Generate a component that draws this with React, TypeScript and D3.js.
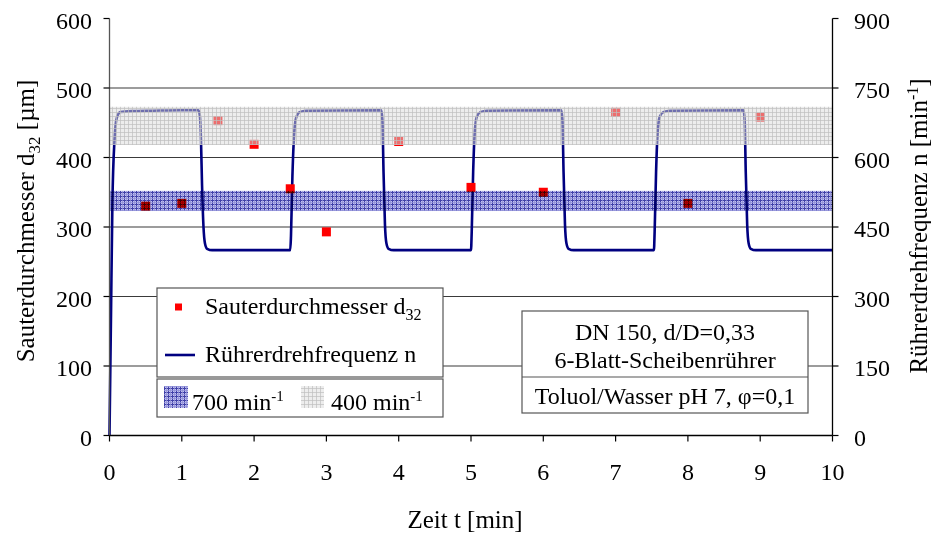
import React from "react";
import * as d3 from "d3";

// Sauter mean diameter samples (t in min, d32 in µm)
const sampleTime = [0.5, 1, 1.5, 2, 2.5, 3, 4, 5, 6, 7, 8, 9];
const sampleD32 = [330, 334, 453, 419, 355, 293, 423, 357, 350, 465, 334, 458];

// Stirrer speed trace (t in min, n in 1/min)
const speedTime = [
  0, 0.02, 0.04, 0.07, 0.1, 0.15, 0.3, 0.6, 1.0, 1.23,
  1.25, 1.265, 1.28, 1.3, 1.32, 1.35, 1.42,
  2.5, 2.51, 2.53, 2.55, 2.58, 2.63, 2.72,
  3.76, 3.775, 3.79, 3.81, 3.83, 3.86, 3.93,
  5.0, 5.01, 5.03, 5.05, 5.08, 5.13, 5.22,
  6.25, 6.265, 6.28, 6.3, 6.32, 6.35, 6.42,
  7.53, 7.54, 7.56, 7.58, 7.61, 7.66, 7.75,
  8.77, 8.785, 8.8, 8.82, 8.84, 8.87, 8.94,
  10,
];
const speedN = [
  0, 250, 500, 640, 685, 698, 700, 701, 702, 702,
  690, 640, 540, 450, 415, 403, 400,
  400, 430, 560, 640, 685, 698, 701,
  702, 680, 570, 455, 415, 403, 400,
  400, 440, 570, 650, 688, 698, 701,
  702, 680, 570, 455, 415, 403, 400,
  400, 440, 570, 650, 688, 698, 701,
  702, 680, 570, 455, 415, 403, 400,
  400,
];

// d32 ranges observed at constant speed
const bandLabels = ["700 min", "400 min"];
const band700 = [323, 352];
const band400 = [418, 473];

const xTicks = [0, 1, 2, 3, 4, 5, 6, 7, 8, 9, 10];
const yTicksLeft = [0, 100, 200, 300, 400, 500, 600];
const yTicksRight = [0, 150, 300, 450, 600, 750, 900];
const gridValues = [100, 200, 300, 400, 500];

const FONT = "'Liberation Serif', 'Times New Roman', serif";

export default function App() {
  const x = d3.scaleLinear().domain([0, 10]).range([109.5, 832.5]);
  const yL = d3.scaleLinear().domain([0, 600]).range([435.5, 18.5]);
  const yR = d3.scaleLinear().domain([0, 900]).range([435.5, 18.5]);

  const speedPts = speedTime.map((t, i) => [t, speedN[i]] as [number, number]);
  const line = d3
    .line<[number, number]>()
    .x((d) => x(d[0]))
    .y((d) => yR(d[1]))
    .curve(d3.curveMonotoneX);

  const [x0, x1] = x.range();

  return (
    <svg width={931} height={533} style={{ position: "absolute", left: 0, top: 0, background: "#fff" }} fontFamily={FONT}>
      <defs>
        <pattern id="hatchBlue" width={4} height={4} patternUnits="userSpaceOnUse">
          <rect width={4} height={4} fill="#c2c2f0" />
          <line x1={0.5} y1={0} x2={0.5} y2={4} stroke="#4040a8" strokeWidth={1} />
          <line x1={0} y1={0.5} x2={4} y2={0.5} stroke="#4040a8" strokeWidth={1} />
          <line x1={2.5} y1={0} x2={2.5} y2={4} stroke="#9090d8" strokeWidth={0.8} />
          <line x1={0} y1={2.5} x2={4} y2={2.5} stroke="#9090d8" strokeWidth={0.8} />
        </pattern>
        <pattern id="hatchGray" width={4} height={4} patternUnits="userSpaceOnUse">
          <rect width={4} height={4} fill="#dcdcdc" fillOpacity={0.5} />
          <line x1={0.5} y1={0} x2={0.5} y2={4} stroke="#c0c0c0" strokeWidth={1} strokeOpacity={0.7} />
          <line x1={0} y1={0.5} x2={4} y2={0.5} stroke="#c0c0c0" strokeWidth={1} strokeOpacity={0.7} />
        </pattern>
      </defs>

      {/* horizontal grid */}
      {gridValues.map((v) => (
        <line key={v} x1={x0} x2={x1} y1={yL(v)} y2={yL(v)} stroke="#3a3a3a" strokeWidth={1.2} />
      ))}

      {/* stirrer speed trace */}
      <path d={line(speedPts) || ""} fill="none" stroke="#000080" strokeWidth={2.6} strokeLinejoin="round" />

      {/* d32 samples */}
      {sampleTime.map((t, i) => (
        <rect key={i} x={x(t) - 4.5} y={yL(sampleD32[i]) - 4.5} width={9} height={9} fill="#ff0000" />
      ))}

      {/* d32 range bands at constant speed */}
      <rect x={x0} y={yL(band400[1])} width={x1 - x0} height={yL(band400[0]) - yL(band400[1])} fill="url(#hatchGray)" />
      <rect
        x={x0}
        y={yL(band700[1])}
        width={x1 - x0}
        height={yL(band700[0]) - yL(band700[1])}
        fill="url(#hatchBlue)"
        style={{ mixBlendMode: "multiply" }}
      />

      {/* axes */}
      <line x1={x0} x2={x1} y1={yL(0)} y2={yL(0)} stroke="#000" strokeWidth={1.3} />
      <line x1={x0} x2={x0} y1={yL(0)} y2={yL(600)} stroke="#555" strokeWidth={1.3} />
      <line x1={x1} x2={x1} y1={yL(0)} y2={yL(600)} stroke="#000" strokeWidth={1.3} />

      {xTicks.map((t) => (
        <g key={t}>
          <line x1={x(t)} x2={x(t)} y1={yL(0)} y2={yL(0) + 6} stroke="#000" strokeWidth={1.2} />
          <text x={x(t)} y={480} fontSize={24} textAnchor="middle" fill="#000">{t}</text>
        </g>
      ))}
      {yTicksLeft.map((v) => (
        <g key={v}>
          <line x1={x0 - 6} x2={x0} y1={yL(v)} y2={yL(v)} stroke="#000" strokeWidth={1.2} />
          <text x={92} y={yL(v) + 10} fontSize={24} textAnchor="end" fill="#000">{v}</text>
        </g>
      ))}
      {yTicksRight.map((v) => (
        <g key={v}>
          <line x1={x1} x2={x1 + 6} y1={yR(v)} y2={yR(v)} stroke="#000" strokeWidth={1.2} />
          <text x={854} y={yR(v) + 10} fontSize={24} textAnchor="start" fill="#000">{v}</text>
        </g>
      ))}

      {/* axis titles */}
      <text x={465} y={528} fontSize={25} textAnchor="middle" fill="#000">Zeit t [min]</text>
      <text transform="translate(34,221) rotate(-90)" fontSize={25} textAnchor="middle" fill="#000">
        Sauterdurchmesser d<tspan fontSize={17} dy={6}>32</tspan><tspan dy={-6}> [µm]</tspan>
      </text>
      <text transform="translate(927,226) rotate(-90)" fontSize={25} textAnchor="middle" fill="#000">
        Rührerdrehfrequenz n [min<tspan fontSize={16} dy={-9}>-1</tspan><tspan dy={9}>]</tspan>
      </text>

      {/* legend */}
      <rect x={157} y={288} width={286} height={89} fill="#fff" stroke="#555" strokeWidth={1.2} />
      <rect x={178.5 - 3.5} y={303.5} width={7} height={7} fill="#ff0000" />
      <text x={205} y={314} fontSize={24} fill="#000">
        Sauterdurchmesser d<tspan fontSize={16} dy={6}>32</tspan>
      </text>
      <line x1={165} x2={195} y1={355} y2={355} stroke="#000080" strokeWidth={2.6} />
      <text x={205} y={362} fontSize={24} fill="#000">Rührerdrehfrequenz n</text>

      <rect x={157} y={379} width={286} height={38} fill="#fff" stroke="#555" strokeWidth={1.2} />
      <rect x={164} y={386} width={24} height={22} fill="url(#hatchBlue)" />
      <text x={192} y={410} fontSize={24} fill="#000">
        {bandLabels[0]}<tspan fontSize={15} dy={-9}>-1</tspan>
      </text>
      <rect x={301} y={386} width={23} height={22} fill="url(#hatchGray)" />
      <text x={331} y={410} fontSize={24} fill="#000">
        {bandLabels[1]}<tspan fontSize={15} dy={-9}>-1</tspan>
      </text>

      {/* setup box */}
      <rect x={522} y={311} width={286} height={102} fill="#fff" stroke="#555" strokeWidth={1.2} />
      <line x1={522} x2={808} y1={377} y2={377} stroke="#555" strokeWidth={1.2} />
      <text x={665} y={340} fontSize={24} textAnchor="middle" fill="#000">DN 150, d/D=0,33</text>
      <text x={665} y={368} fontSize={24} textAnchor="middle" fill="#000">6-Blatt-Scheibenrührer</text>
      <text x={665} y={404} fontSize={24} textAnchor="middle" fill="#000">Toluol/Wasser pH 7, φ=0,1</text>
    </svg>
  );
}
